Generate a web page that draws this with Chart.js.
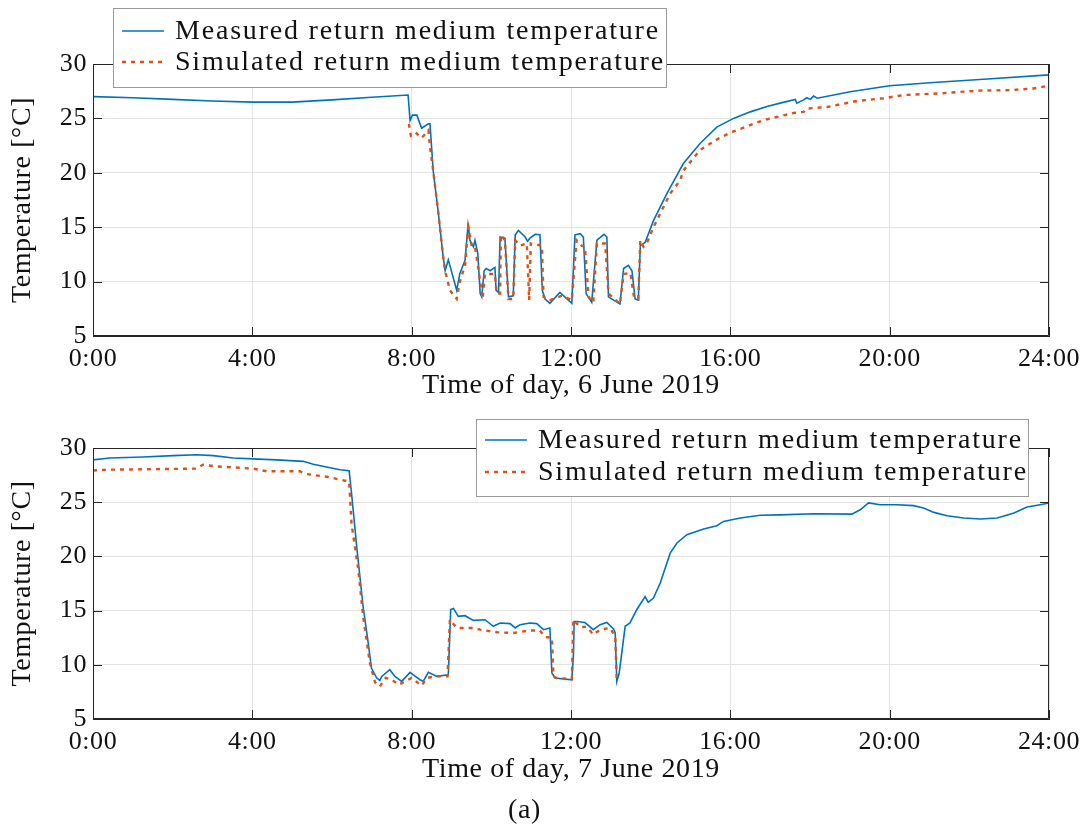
<!DOCTYPE html>
<html><head><meta charset="utf-8">
<script src="https://cdn.jsdelivr.net/npm/chart.js@4.4.1/dist/chart.umd.min.js"></script>
<style>
html,body{margin:0;padding:0;background:#fff;}
#wrap{position:relative;width:1080px;height:830px;background:#fff;}
#c1{position:absolute;left:0;top:0;}
#c2{position:absolute;left:0;top:410px;}
</style></head><body>
<div id="wrap"><canvas id="c1" width="1080" height="410"></canvas><canvas id="c2" width="1080" height="420"></canvas></div>
<script>
// ---------- data ----------
const timeTicks = [0, 4, 8, 12, 16, 20, 24];
const tempTicks = [5, 10, 15, 20, 25, 30];
const seriesNames = ['Measured return medium temperature', 'Simulated return medium temperature'];
const day1Label = 'Time of day, 6 June 2019';
const day2Label = 'Time of day, 7 June 2019';
const yLabel = 'Temperature [°C]';
const caption = '(a)';

const day1MeasHours = [0,1,2,3,4,5,6,7,7.91,7.96,8.02,8.13,8.25,8.42,8.46,8.54,8.67,8.79,8.84,8.92,9.13,9.21,9.34,9.42,9.46,9.55,9.59,9.66,9.72,9.76,9.82,9.87,9.97,10.09,10.12,10.18,10.22,10.34,10.43,10.55,10.6,10.68,10.85,10.91,10.97,11.1,11.22,11.28,11.35,11.47,11.72,12.02,12.1,12.23,12.31,12.38,12.52,12.65,12.83,12.9,12.94,13.07,13.23,13.32,13.44,13.53,13.61,13.69,13.74,13.86,14.07,14.41,14.82,15.24,15.66,16.08,16.5,16.92,17.3,17.63,17.67,17.84,17.92,18.01,18.09,18.18,19.01,20.0,21.1,22.36,24.0];
const day1MeasTemp = [27.0,26.9,26.75,26.6,26.5,26.5,26.7,26.95,27.15,24.8,25.3,25.3,24.1,24.5,24.5,20.2,16.3,12.3,11.0,12.0,9.2,10.75,11.95,15.4,13.8,13.2,13.8,12.6,8.9,8.6,11.0,11.2,11.0,11.3,9.2,9.0,14.1,14.0,8.6,8.7,14.3,14.7,14.1,13.7,14.0,14.35,14.3,9.2,8.4,8.0,9.0,8.0,14.3,14.4,14.1,8.9,8.1,13.8,14.35,14.1,8.6,8.3,7.95,11.2,11.5,11.0,8.4,8.3,13.3,13.6,15.6,18.1,20.85,22.7,24.2,25.0,25.6,26.1,26.45,26.75,26.4,26.7,26.9,26.75,27.05,26.85,27.45,28.0,28.3,28.6,29.0];

const day1SimHours = [7.93,7.98,8.1,8.25,8.42,8.46,8.54,8.67,8.79,8.84,8.96,9.13,9.21,9.34,9.42,9.51,9.59,9.67,9.78,9.84,9.97,10.09,10.13,10.22,10.24,10.34,10.43,10.55,10.6,10.72,10.89,10.95,10.99,11.27,11.31,11.47,11.77,12.02,12.14,12.27,12.35,12.44,12.56,12.65,12.86,12.94,13.23,13.32,13.49,13.58,13.69,13.74,13.82,13.9,14.07,14.49,14.74,14.82,15.24,15.75,16.08,16.84,17.59,17.84,17.92,18.43,19.18,19.85,20.35,21.27,22.2,23.03,23.61,24.0];
const day1SimTemp = [24.5,23.4,23.7,23.2,23.9,22.4,20.2,16.3,12.3,11.0,9.2,8.4,10.0,11.5,15.0,13.2,13.2,11.3,8.4,10.7,10.7,10.7,8.9,8.9,14.3,13.8,8.4,8.4,13.8,13.3,13.5,8.3,13.5,13.3,8.6,8.3,8.7,8.3,13.8,13.3,13.2,8.6,8.1,13.5,13.5,8.9,7.95,10.7,10.8,8.6,8.4,13.8,13.2,13.5,15.0,18.1,19.3,20.2,22.1,23.25,23.8,24.85,25.5,25.6,25.9,26.05,26.6,26.85,27.15,27.3,27.55,27.6,27.75,28.0];

const day2MeasHours = [0,0.42,1.26,2.01,2.6,3.02,3.52,4.02,4.61,5.28,5.53,5.86,6.2,6.43,6.49,6.62,6.78,6.91,6.99,7.12,7.2,7.25,7.45,7.58,7.75,7.96,8.04,8.21,8.29,8.42,8.63,8.92,8.98,9.05,9.17,9.34,9.55,9.84,10.05,10.22,10.47,10.6,10.72,10.97,11.14,11.31,11.47,11.52,11.6,12.02,12.06,12.08,12.15,12.35,12.56,12.73,12.9,13.07,13.11,13.15,13.21,13.36,13.48,13.65,13.86,13.94,14.07,14.24,14.49,14.66,14.91,15.33,15.66,15.83,16.25,16.75,17.25,18.09,19.05,19.26,19.47,19.76,20.19,20.6,20.85,21.11,21.44,21.86,22.28,22.7,23.12,23.45,23.78,24.0];
const day2MeasTemp = [28.9,29.08,29.17,29.3,29.38,29.3,29.08,29.0,28.9,28.77,28.5,28.25,28.0,27.9,25.85,20.9,15.4,12.0,9.7,8.8,8.56,8.93,9.55,8.93,8.47,9.3,9.08,8.62,8.47,9.3,8.93,9.08,15.1,15.2,14.47,14.53,14.1,14.16,13.55,13.86,13.8,13.4,13.7,13.86,13.8,13.24,13.4,9.24,8.78,8.62,10.8,14.0,14.0,13.9,13.24,13.7,13.9,13.3,12.93,8.47,9.24,13.55,13.86,15.08,16.3,15.76,16.16,17.55,20.3,21.24,22.0,22.53,22.83,23.23,23.54,23.8,23.83,23.94,23.9,24.3,24.93,24.77,24.77,24.68,24.46,24.06,23.75,23.54,23.45,23.54,24.0,24.55,24.77,24.93];

const day2SimHours = [0,0.42,2.6,2.76,3.1,4.02,4.36,5.19,5.36,5.95,6.11,6.43,6.49,6.66,6.78,6.95,7.08,7.2,7.35,7.5,7.67,8.0,8.25,8.38,8.59,8.9,8.96,9.13,9.55,9.72,10.14,10.55,10.97,11.22,11.35,11.52,11.56,11.64,12.02,12.06,12.23,12.4,12.56,12.73,12.98,13.11,13.15];
const day2SimTemp = [27.93,28.0,28.1,28.45,28.3,28.1,27.85,27.85,27.6,27.3,27.15,26.9,23.0,18.8,14.5,10.2,8.38,8.0,8.8,8.62,8.16,8.78,8.07,8.78,8.93,8.93,14.16,13.4,13.4,13.24,13.0,12.93,13.17,13.17,12.56,12.5,8.93,8.78,8.68,14.16,13.48,13.5,12.78,13.24,13.4,12.62,8.47];

// ---------- styling ----------
const SERIF = '"Liberation Serif", "Times New Roman", serif';
const BLUE = '#0072BD';
const ORANGE = '#D95319';
const AXIS = '#262626';

function pts(xs, ys) { return xs.map((x, i) => ({ x: x, y: ys[i] })); }

const framePlugin = {
  id: 'frame',
  beforeDraw(chart) { chart.ctx.letterSpacing = '0.6px'; },
  afterDraw(chart, args, opts) {
    const { ctx, chartArea: a, scales: { x, y } } = chart;
    ctx.save();
    ctx.letterSpacing = '0px';
    ctx.strokeStyle = AXIS; ctx.lineWidth = 1; ctx.setLineDash([]);
    const L = 9;
    ctx.beginPath();
    ctx.rect(a.left + 0.5, a.top + 0.5, a.right - a.left - 1, a.bottom - a.top - 1);
    x.ticks.forEach(t => {
      const px = Math.round(x.getPixelForValue(t.value)) + 0.5;
      ctx.moveTo(px, a.bottom); ctx.lineTo(px, a.bottom - L);
      ctx.moveTo(px, a.top); ctx.lineTo(px, a.top + L);
    });
    y.ticks.forEach(t => {
      const py = Math.round(y.getPixelForValue(t.value)) + 0.5;
      ctx.moveTo(a.left, py); ctx.lineTo(a.left + L, py);
      ctx.moveTo(a.right, py); ctx.lineTo(a.right - L, py);
    });
    ctx.stroke();
    // legend
    const lg = opts.legend;
    ctx.fillStyle = '#ffffff';
    ctx.fillRect(lg.x, lg.y, lg.w, lg.h);
    ctx.strokeStyle = '#9a9a9a'; ctx.lineWidth = 1;
    ctx.strokeRect(lg.x + 0.5, lg.y + 0.5, lg.w, lg.h);
    chart.data.datasets.forEach((ds, i) => {
      const ry = lg.rows[i];
      ctx.save();
      ctx.strokeStyle = ds.borderColor; ctx.lineWidth = ds.borderWidth;
      ctx.setLineDash(ds.borderDash || []);
      ctx.beginPath(); ctx.moveTo(lg.sx1, ry); ctx.lineTo(lg.sx2, ry); ctx.stroke();
      ctx.restore();
      ctx.fillStyle = '#111';
      ctx.font = '28px ' + SERIF;
      ctx.letterSpacing = '1.8px';
      ctx.textBaseline = 'middle'; ctx.textAlign = 'left';
      ctx.fillText(ds.label, lg.tx, ry + 1);
    });
    ctx.restore();
  }
};

function makeChart(canvasId, measH, measT, simH, simT, xTitle, cfg) {
  return new Chart(document.getElementById(canvasId), {
    type: 'line',
    data: {
      datasets: [
        { label: seriesNames[0], data: pts(measH, measT), borderColor: BLUE, borderWidth: 1.6, pointRadius: 0, tension: 0, order: 1, fill: false },
        { label: seriesNames[1], data: pts(simH, simT), borderColor: ORANGE, borderWidth: 2.4, borderDash: [4, 5], pointRadius: 0, tension: 0, order: 0, fill: false }
      ]
    },
    options: {
      responsive: false, animation: false, events: [],
      layout: { autoPadding: false, padding: cfg.padding },
      plugins: {
        legend: { display: false }, tooltip: { enabled: false },
        title: cfg.caption ? { display: true, text: cfg.caption, position: 'bottom', color: '#111', font: { family: SERIF, size: 28, weight: 'normal' }, padding: { top: 7.6, bottom: 2.2 } } : { display: false },
        frame: { legend: cfg.legend }
      },
      scales: {
        x: {
          type: 'linear', min: 0, max: 24,
          afterBuildTicks: s => { s.ticks = timeTicks.map(v => ({ value: v })); },
          afterFit: s => { s.height = cfg.xh; s.paddingLeft = 0; s.paddingRight = 0; },
          ticks: { callback: v => Math.round(v) + ':00', color: '#111', padding: 8, maxRotation: 0, autoSkip: false, font: { family: SERIF, size: 26 } },
          grid: { color: '#e3e3e3', lineWidth: 1, drawTicks: false },
          border: { display: true, color: AXIS, width: 1 },
          title: { display: true, text: xTitle, color: '#111', font: { family: SERIF, size: 28 }, padding: { top: 0, bottom: 0 } }
        },
        y: {
          type: 'linear', min: 5, max: 30,
          afterBuildTicks: s => { s.ticks = tempTicks.map(v => ({ value: v })); },
          afterFit: s => { s.width = 93; s.paddingTop = 0; s.paddingBottom = 0; },
          ticks: { color: '#111', padding: 6, font: { family: SERIF, size: 26 } },
          grid: { color: '#e3e3e3', lineWidth: 1, drawTicks: false },
          border: { display: true, color: AXIS, width: 1 },
          title: { display: true, text: yLabel, color: '#111', font: { family: SERIF, size: 28 }, padding: { top: 6, bottom: 0 } }
        }
      }
    },
    plugins: [framePlugin]
  });
}

makeChart('c1', day1MeasHours, day1MeasTemp, day1SimHours, day1SimTemp, day1Label, {
  padding: { top: 64, right: 31, bottom: 7.7, left: 0 },
  xh: 66.3,
  legend: { x: 113, y: 8, w: 553, h: 79, rows: [31, 62], sx1: 122, sx2: 164, tx: 175 }
});
makeChart('c2', day2MeasHours, day2MeasTemp, day2SimHours, day2SimTemp, day2Label, {
  padding: { top: 38, right: 31, bottom: 0, left: 0 },
  xh: 67.6,
  caption: caption,
  legend: { x: 476, y: 9, w: 552, h: 77, rows: [30, 62], sx1: 485, sx2: 527, tx: 538 }
});
</script>
</body></html>
